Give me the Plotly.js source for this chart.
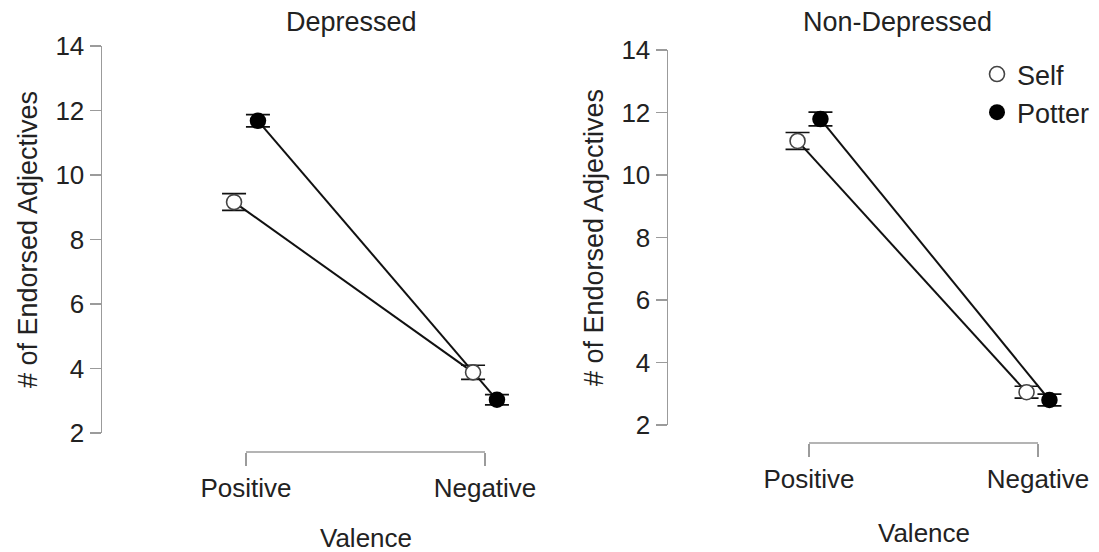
<!DOCTYPE html>
<html><head><meta charset="utf-8">
<script src="https://cdn.plot.ly/plotly-3.0.1.min.js"></script>
<style>html,body{margin:0;padding:0;background:#fff}#chart{width:1099px;height:552px}</style>
</head><body><div id="chart"></div>
<script>
// ---- data ----
const categories = ['Positive', 'Negative'];
const panelTitles = ['Depressed', 'Non-Depressed'];
const seriesNames = ['Self', 'Potter'];
const xTitle = 'Valence';
const yTitle = '# of Endorsed Adjectives';
const depressedSelf = [9.16, 3.88];
const depressedSelfErr = [0.26, 0.22];
const depressedPotter = [11.68, 3.03];
const depressedPotterErr = [0.19, 0.16];
const nonDepressedSelf = [11.09, 3.05];
const nonDepressedSelfErr = [0.27, 0.19];
const nonDepressedPotter = [11.79, 2.80];
const nonDepressedPotterErr = [0.22, 0.19];
const yTicks = [2, 4, 6, 8, 10, 12, 14];

// ---- layout helpers ----
const W = 1099, H = 552;
const px = v => v / W;
const py = v => 1 - v / H;
const dodge = 0.05;
const idx = categories.map((c, i) => i);
const FONT = 'Liberation Sans, Arial, sans-serif';
const AX = '#9b9b9b';
const TXT = '#222';

const selfMarker = {symbol: 'circle', size: 15, color: '#fff', line: {color: '#444', width: 1.6}};
const potterMarker = {symbol: 'circle', size: 16.5, color: '#000', line: {color: '#000', width: 0}};

function panelTraces(xa, ya, self, selfErr, potter, potterErr, showLegend) {
  const xs = idx.map(i => i - dodge), xp = idx.map(i => i + dodge);
  const line = {color: '#111', width: 2};
  const eb = arr => ({type: 'data', array: arr, visible: true, color: '#111', thickness: 1.7, width: 12});
  return [
    {x: xs, y: self, xaxis: xa, yaxis: ya, mode: 'lines', line, showlegend: false, hoverinfo: 'skip'},
    {x: xp, y: potter, xaxis: xa, yaxis: ya, mode: 'lines', line, showlegend: false, hoverinfo: 'skip'},
    {x: xs, y: self, xaxis: xa, yaxis: ya, mode: 'markers', name: seriesNames[0], marker: selfMarker,
     error_y: eb(selfErr), showlegend: showLegend, cliponaxis: false},
    {x: xp, y: potter, xaxis: xa, yaxis: ya, mode: 'markers', name: seriesNames[1], marker: potterMarker,
     error_y: eb(potterErr), showlegend: showLegend, cliponaxis: false}
  ];
}

const data = [
  ...panelTraces('x', 'y', depressedSelf, depressedSelfErr, depressedPotter, depressedPotterErr, false),
  ...panelTraces('x2', 'y2', nonDepressedSelf, nonDepressedSelfErr, nonDepressedPotter, nonDepressedPotterErr, true)
];

function yAxis(top, bottom, anchor) {
  return {
    anchor, domain: [py(bottom), py(top)], range: [2, 14], tickvals: yTicks,
    showline: true, linecolor: AX, linewidth: 1.5, ticks: 'outside', ticklen: 11, tickwidth: 1.5, tickcolor: AX,
    showgrid: false, zeroline: false, tickfont: {size: 26, color: TXT, family: FONT},
    title: {text: yTitle, font: {size: 27, color: TXT, family: FONT}, standoff: 10}
  };
}
function xAxis(left, right, zeroPx, onePx, axisY) {
  const per = onePx - zeroPx;
  return {
    domain: [px(left), px(right)], range: [(left - zeroPx) / per, 1 + (right - onePx) / per],
    tickvals: idx, ticktext: categories, anchor: 'free', position: py(axisY),
    showline: false, ticks: 'outside', ticklen: 13, tickwidth: 1.5, tickcolor: AX,
    showgrid: false, zeroline: false, tickfont: {size: 26, color: TXT, family: FONT}
  };
}
const txt = (text, xref, x, yPix) => ({text, xref, yref: 'paper', x, y: py(yPix), xanchor: 'center', yanchor: 'middle',
  showarrow: false, font: {size: 26, color: TXT, family: FONT}});

const layout = {
  width: W, height: H, margin: {l: 0, r: 0, t: 0, b: 0},
  paper_bgcolor: '#fff', plot_bgcolor: '#fff', font: {family: FONT, color: TXT},
  xaxis: xAxis(102, 530, 246, 485, 452),
  yaxis: yAxis(46, 433, 'x'),
  xaxis2: xAxis(668, 1099, 809, 1038, 443),
  yaxis2: yAxis(50, 425, 'x2'),
  shapes: [
    {type: 'line', xref: 'x', yref: 'paper', x0: idx[0], x1: idx[idx.length - 1], y0: py(452), y1: py(452), line: {color: AX, width: 1.5}},
    {type: 'line', xref: 'x2', yref: 'paper', x0: idx[0], x1: idx[idx.length - 1], y0: py(443), y1: py(443), line: {color: AX, width: 1.5}}
  ],
  annotations: [
    Object.assign(txt(panelTitles[0], 'paper', px(351), 22), {font: {size: 27, color: TXT, family: FONT}}),
    Object.assign(txt(panelTitles[1], 'paper', px(898), 22), {font: {size: 27, color: TXT, family: FONT}}),
    txt(xTitle, 'x', (idx[0] + idx[idx.length - 1]) / 2, 538),
    txt(xTitle, 'x2', (idx[0] + idx[idx.length - 1]) / 2, 533)
  ],
  legend: {x: px(977), y: py(50), xanchor: 'left', yanchor: 'top', font: {size: 27, color: TXT, family: FONT},
           bgcolor: 'rgba(0,0,0,0)', itemwidth: 30, tracegroupgap: 0},
  showlegend: true
};

Plotly.newPlot('chart', data, layout, {staticPlot: true});
</script></body></html>
